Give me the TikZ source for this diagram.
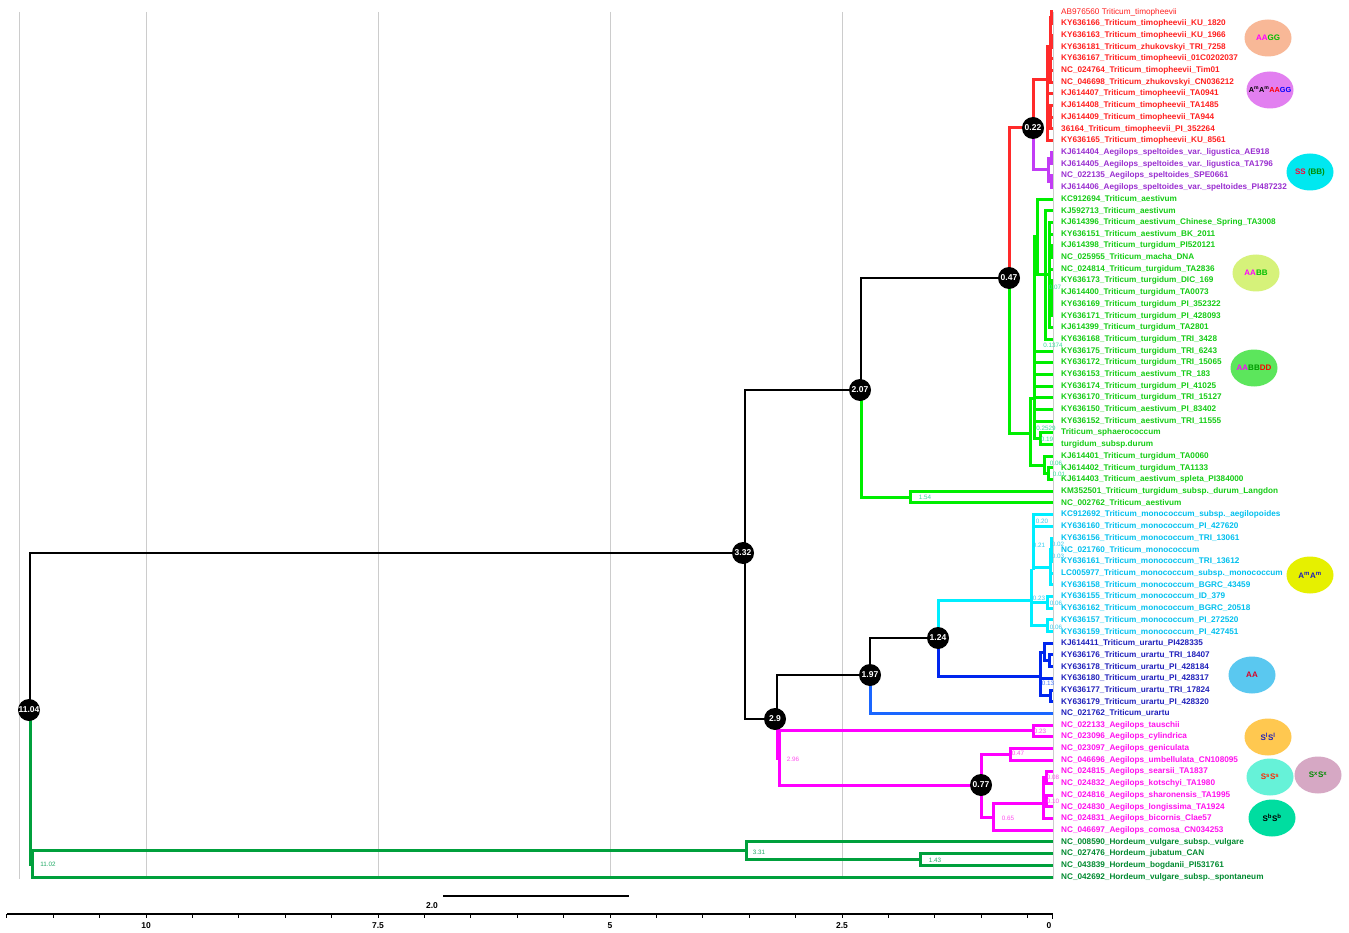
\documentclass[tikz,border=0pt]{standalone}
\usepackage{fontspec}
\setmainfont{Liberation Sans}
\usetikzlibrary{shapes.geometric}
\definecolor{cRed}{HTML}{FF2A2A}
\definecolor{cPur}{HTML}{C23CF5}
\definecolor{cGrn}{HTML}{00EE00}
\definecolor{cCyn}{HTML}{00EEFF}
\definecolor{cBlu}{HTML}{0026EE}
\definecolor{cBlu2}{HTML}{1A66FF}
\definecolor{cMag}{HTML}{FF00FF}
\definecolor{cHor}{HTML}{00A03C}
\definecolor{lRed}{HTML}{FF2020}
\definecolor{lPur}{HTML}{9A2FD0}
\definecolor{lGrn}{HTML}{14CC14}
\definecolor{lCyn}{HTML}{00C0EE}
\definecolor{lBlu}{HTML}{2020BB}
\definecolor{lMag}{HTML}{FF10EE}
\definecolor{lHor}{HTML}{008A30}
\definecolor{nGrn}{HTML}{33DD99}
\definecolor{nCyn}{HTML}{33CCEE}
\definecolor{nMag}{HTML}{FF50F0}
\definecolor{nHor}{HTML}{22AA66}
\definecolor{nBlu}{HTML}{4477FF}
\definecolor{grid}{HTML}{CCCCCC}
\begin{document}
\begin{tikzpicture}[x=1pt,y=-1pt,
  lab/.style={anchor=west,inner sep=0,font=\fontsize{8.2}{9}\selectfont\bfseries},
  num/.style={inner sep=0,font=\fontsize{6.3}{7}\selectfont},
  bn/.style={circle,fill=black,minimum size=22pt,inner sep=0,text=white,font=\fontsize{8.5}{9}\selectfont\bfseries},
  gen/.style={ellipse,minimum width=47pt,minimum height=37pt,inner sep=0},
  gtxt/.style={inner sep=0,font=\fontsize{8}{9}\selectfont\bfseries},
  axl/.style={inner sep=0,font=\fontsize{8.5}{9}\selectfont\bfseries},
  eBlk/.style={line width=2.4pt,black},
  eRed/.style={line width=3pt,cRed},
  ePur/.style={line width=3pt,cPur},
  eGrn/.style={line width=3pt,cGrn},
  eCyn/.style={line width=3pt,cCyn},
  eBlu/.style={line width=3pt,cBlu},
  eBlu2/.style={line width=3pt,cBlu2},
  eMag/.style={line width=3pt,cMag},
  eHor/.style={line width=3pt,cHor},
  gline/.style={line width=1pt,grid}]
\useasboundingbox (0,0) rectangle (1349,933);
\fill[white] (0,0) rectangle (1349,933);
% grid lines
\foreach \gx in {19,146,378,610,842,1053.5}
  \draw[gline] (\gx,12) -- (\gx,879);
% tips
\foreach \i in {1,...,75} \coordinate (t\i) at (1053,{12+(\i-1)*11.69});
% internal nodes
\coordinate (r) at (30,710);
\coordinate (n332) at (745,553);
\coordinate (n207) at (861,390);
\coordinate (n047) at (1009,278);
\coordinate (n022) at (1033,128);
\coordinate (nR0) at (1047,80);
\coordinate (nRa) at (1050,47);
\coordinate (nRa1) at (1051.5,17.8);
\coordinate (nRa3) at (1051.5,41.2);
\coordinate (nRc) at (1050,117.2);
\coordinate (nP0) at (1048,170);
\coordinate (nPa) at (1051,158.1);
\coordinate (nPb) at (1051,181.5);
\coordinate (nG0) at (1030,433);
\coordinate (nG1) at (1034,398);
\coordinate (nG2) at (1044,465);
\coordinate (nG3) at (1048,473.8);
\coordinate (nG5) at (1040,438.7);
\coordinate (nGt) at (1037,237);
\coordinate (nN18) at (1045,275);
\coordinate (nN19) at (1049,275);
\coordinate (nN19a) at (1051.5,251.6);
\coordinate (nN19b) at (1051.5,298.4);
\coordinate (n154) at (910,497.1);
\coordinate (n29) at (777,719);
\coordinate (n197) at (870,675);
\coordinate (n124) at (938,638);
\coordinate (nC0) at (1031,600);
\coordinate (nC1) at (1033,570);
\coordinate (nC3) at (1050,567);
\coordinate (nC4) at (1051.5,549.7);
\coordinate (nC6) at (1047,602.3);
\coordinate (nC7) at (1047,625.7);
\coordinate (nB0) at (1040,676);
\coordinate (nB1) at (1044,652);
\coordinate (nB3) at (1049,660.8);
\coordinate (nB2) at (1050,695.9);
\coordinate (n296) at (779,758);
\coordinate (nM023) at (1033,730.9);
\coordinate (n077) at (981,785);
\coordinate (nM047) at (1010,754.3);
\coordinate (n065) at (993,817);
\coordinate (nM0) at (1043,803);
\coordinate (nM1) at (1046,777.7);
\coordinate (nM2) at (1046,801.1);
\coordinate (nH) at (32,864);
\coordinate (nH331) at (746,850.5);
\coordinate (nH143) at (920,859.5);
% edges
\foreach \p/\c in {r/n332,n332/n207,n332/n29,n207/n047,n29/n197,n197/n124}
  \draw[eBlk] (\p) |- (\c);
\foreach \p/\c in {n047/n022,n022/nR0,nR0/nRa,nR0/t8,nR0/nRc,nR0/t12,nRa/nRa1,nRa/nRa3,nRa/t5,nRa/t6,nRa/t7,nRa1/t1,nRa1/t2,nRa3/t3,nRa3/t4,nRc/t9,nRc/t10,nRc/t11}
  \draw[eRed] (\p) |- (\c);
\foreach \p/\c in {n022/nP0,nP0/nPa,nP0/nPb,nPa/t13,nPa/t14,nPb/t15,nPb/t16}
  \draw[ePur] (\p) |- (\c);
\foreach \p/\c in {n047/nG0,nG0/nG1,nG0/nG2,nG2/t39,nG2/nG3,nG3/t40,nG3/t41,nG1/nGt,nG1/t30,nG1/t31,nG1/t32,nG1/t33,nG1/t34,nG1/t35,nG1/t36,nG1/nG5,nG5/t37,nG5/t38,nGt/t17,nGt/nN18,nN18/t18,nN18/nN19,nN18/t29,nN19/t19,nN19/t20,nN19/nN19a,nN19/t23,nN19/nN19b,nN19/t28,nN19a/t21,nN19a/t22,nN19b/t24,nN19b/t25,nN19b/t26,nN19b/t27,n207/n154,n154/t42,n154/t43}
  \draw[eGrn] (\p) |- (\c);
\foreach \p/\c in {n124/nC0,nC0/nC1,nC0/nC6,nC0/nC7,nC1/t44,nC1/t45,nC1/nC3,nC3/nC4,nC3/t49,nC3/t50,nC4/t46,nC4/t47,nC4/t48,nC6/t51,nC6/t52,nC7/t53,nC7/t54}
  \draw[eCyn] (\p) |- (\c);
\foreach \p/\c in {n124/nB0,nB0/nB1,nB0/t58,nB0/nB2,nB1/t55,nB1/nB3,nB3/t56,nB3/t57,nB2/t59,nB2/t60}
  \draw[eBlu] (\p) |- (\c);
\draw[eBlu2] (n197) |- (t61);
\foreach \p/\c in {n29/n296,n296/nM023,n296/n077,nM023/t62,nM023/t63,n077/nM047,n077/n065,nM047/t64,nM047/t65,n065/nM0,n065/t71,nM0/nM1,nM0/nM2,nM0/t70,nM1/t66,nM1/t67,nM2/t68,nM2/t69}
  \draw[eMag] (\p) |- (\c);
\foreach \p/\c in {r/nH,nH/nH331,nH/t75,nH331/t72,nH331/nH143,nH143/t73,nH143/t74}
  \draw[eHor] (\p) |- (\c);
% node circles
\node[bn] (c1104) at (29,710) {11.04};
\node[bn] (c332) at (743,553) {3.32};
\node[bn] (c207) at (860,390) {2.07};
\node[bn] (c047) at (1009,278) {0.47};
\node[bn] (c022) at (1033,128) {0.22};
\node[bn] (c29) at (775,719) {2.9};
\node[bn] (c197) at (870,675) {1.97};
\node[bn] (c124) at (938,638) {1.24};
\node[bn] (c077) at (981,785) {0.77};
% branch numbers
\node[num,text=nGrn] (b1) at (1055,287) {0.07};
\node[num,text=nGrn] (b2) at (1053,345) {0.1374};
\node[num,text=nGrn] (b3) at (1046,428) {0.2529};
\node[num,text=nGrn] (b4) at (1047,439) {0.19};
\node[num,text=nGrn] (b5) at (1056,463) {0.06};
\node[num,text=nGrn] (b6) at (1059,474) {0.01};
\node[num,text=nGrn] (b7) at (925,497) {1.54};
\node[num,text=nCyn] (b8) at (1042,521) {0.20};
\node[num,text=nCyn] (b9) at (1039,545) {0.21};
\node[num,text=nCyn] (b10) at (1058,544) {0.02};
\node[num,text=nCyn] (b11) at (1058,556) {0.03};
\node[num,text=nCyn] (b12) at (1039,598) {0.23};
\node[num,text=nCyn] (b13) at (1056,603) {0.06};
\node[num,text=nCyn] (b14) at (1056,627) {0.06};
\node[num,text=nBlu] (b15) at (1048,683) {0.13};
\node[num,text=nMag] (b16) at (1040,731) {0.23};
\node[num,text=nMag] (b17) at (1018,753) {0.47};
\node[num,text=nMag] (b18) at (793,759) {2.96};
\node[num,text=nMag] (b19) at (1053,777) {0.08};
\node[num,text=nMag] (b20) at (1053,801) {0.10};
\node[num,text=nMag] (b21) at (1008,818) {0.65};
\node[num,text=nHor] (b22) at (759,852) {3.31};
\node[num,text=nHor] (b23) at (935,860) {1.43};
\node[num,text=nHor] (b24) at (48,864) {11.02};
% tip labels
\node[lab,text=lRed,font=\fontsize{8.2}{9}\selectfont] (L1) at (1061,12) {AB976560 Triticum\_timopheevii};
\foreach \i/\t in {2/KY636166\_Triticum\_timopheevii\_KU\_1820,3/KY636163\_Triticum\_timopheevii\_KU\_1966,4/KY636181\_Triticum\_zhukovskyi\_TRI\_7258,5/KY636167\_Triticum\_timopheevii\_01C0202037,6/NC\_024764\_Triticum\_timopheevii\_Tim01,7/NC\_046698\_Triticum\_zhukovskyi\_CN036212,8/KJ614407\_Triticum\_timopheevii\_TA0941,9/KJ614408\_Triticum\_timopheevii\_TA1485,10/KJ614409\_Triticum\_timopheevii\_TA944,11/36164\_Triticum\_timopheevii\_PI\_352264,12/KY636165\_Triticum\_timopheevii\_KU\_8561}
  \node[lab,text=lRed] (L\i) at (1061,{12+(\i-1)*11.69}) {\t};
\foreach \i/\t in {13/KJ614404\_Aegilops\_speltoides\_var.\_ligustica\_AE918,14/KJ614405\_Aegilops\_speltoides\_var.\_ligustica\_TA1796,15/NC\_022135\_Aegilops\_speltoides\_SPE0661,16/KJ614406\_Aegilops\_speltoides\_var.\_speltoides\_PI487232}
  \node[lab,text=lPur] (L\i) at (1061,{12+(\i-1)*11.69}) {\t};
\foreach \i/\t in {17/KC912694\_Triticum\_aestivum,18/KJ592713\_Triticum\_aestivum,19/KJ614396\_Triticum\_aestivum\_Chinese\_Spring\_TA3008,20/KY636151\_Triticum\_aestivum\_BK\_2011,21/KJ614398\_Triticum\_turgidum\_PI520121,22/NC\_025955\_Triticum\_macha\_DNA,23/NC\_024814\_Triticum\_turgidum\_TA2836,24/KY636173\_Triticum\_turgidum\_DIC\_169,25/KJ614400\_Triticum\_turgidum\_TA0073,26/KY636169\_Triticum\_turgidum\_PI\_352322,27/KY636171\_Triticum\_turgidum\_PI\_428093,28/KJ614399\_Triticum\_turgidum\_TA2801,29/KY636168\_Triticum\_turgidum\_TRI\_3428,30/KY636175\_Triticum\_turgidum\_TRI\_6243,31/KY636172\_Triticum\_turgidum\_TRI\_15065,32/KY636153\_Triticum\_aestivum\_TR\_183,33/KY636174\_Triticum\_turgidum\_PI\_41025,34/KY636170\_Triticum\_turgidum\_TRI\_15127,35/KY636150\_Triticum\_aestivum\_PI\_83402,36/KY636152\_Triticum\_aestivum\_TRI\_11555,37/Triticum\_sphaerococcum,38/turgidum\_subsp.durum,39/KJ614401\_Triticum\_turgidum\_TA0060,40/KJ614402\_Triticum\_turgidum\_TA1133,41/KJ614403\_Triticum\_aestivum\_spleta\_PI384000,42/KM352501\_Triticum\_turgidum\_subsp.\_durum\_Langdon,43/NC\_002762\_Triticum\_aestivum}
  \node[lab,text=lGrn] (L\i) at (1061,{12+(\i-1)*11.69}) {\t};
\foreach \i/\t in {44/KC912692\_Triticum\_monococcum\_subsp.\_aegilopoides,45/KY636160\_Triticum\_monococcum\_PI\_427620,46/KY636156\_Triticum\_monococcum\_TRI\_13061,47/NC\_021760\_Triticum\_monococcum,48/KY636161\_Triticum\_monococcum\_TRI\_13612,49/LC005977\_Triticum\_monococcum\_subsp.\_monococcum,50/KY636158\_Triticum\_monococcum\_BGRC\_43459,51/KY636155\_Triticum\_monococcum\_ID\_379,52/KY636162\_Triticum\_monococcum\_BGRC\_20518,53/KY636157\_Triticum\_monococcum\_PI\_272520,54/KY636159\_Triticum\_monococcum\_PI\_427451}
  \node[lab,text=lCyn] (L\i) at (1061,{12+(\i-1)*11.69}) {\t};
\foreach \i/\t in {55/KJ614411\_Triticum\_urartu\_PI428335,56/KY636176\_Triticum\_urartu\_TRI\_18407,57/KY636178\_Triticum\_urartu\_PI\_428184,58/KY636180\_Triticum\_urartu\_PI\_428317,59/KY636177\_Triticum\_urartu\_TRI\_17824,60/KY636179\_Triticum\_urartu\_PI\_428320,61/NC\_021762\_Triticum\_urartu}
  \node[lab,text=lBlu] (L\i) at (1061,{12+(\i-1)*11.69}) {\t};
\foreach \i/\t in {62/NC\_022133\_Aegilops\_tauschii,63/NC\_023096\_Aegilops\_cylindrica,64/NC\_023097\_Aegilops\_geniculata,65/NC\_046696\_Aegilops\_umbellulata\_CN108095,66/NC\_024815\_Aegilops\_searsii\_TA1837,67/NC\_024832\_Aegilops\_kotschyi\_TA1980,68/NC\_024816\_Aegilops\_sharonensis\_TA1995,69/NC\_024830\_Aegilops\_longissima\_TA1924,70/NC\_024831\_Aegilops\_bicornis\_Clae57,71/NC\_046697\_Aegilops\_comosa\_CN034253}
  \node[lab,text=lMag] (L\i) at (1061,{12+(\i-1)*11.69}) {\t};
\foreach \i/\t in {72/NC\_008590\_Hordeum\_vulgare\_subsp.\_vulgare,73/NC\_027476\_Hordeum\_jubatum\_CAN,74/NC\_043839\_Hordeum\_bogdanii\_PI531761,75/NC\_042692\_Hordeum\_vulgare\_subsp.\_spontaneum}
  \node[lab,text=lHor] (L\i) at (1061,{12+(\i-1)*11.69}) {\t};
% genome ellipses
\node[gen,fill={rgb,255:red,248;green,184;blue,151}] (e1) at (1268,38) {};
\node[gen,fill={rgb,255:red,226;green,127;blue,240}] (e2) at (1270,90) {};
\node[gen,fill={rgb,255:red,0;green,232;blue,240}] (e3) at (1310,172) {};
\node[gen,fill={rgb,255:red,214;green,242;blue,122}] (e4) at (1256,273) {};
\node[gen,fill={rgb,255:red,92;green,230;blue,92}] (e5) at (1254,368) {};
\node[gen,fill={rgb,255:red,230;green,240;blue,0}] (e6) at (1310,575) {};
\node[gen,fill={rgb,255:red,90;green,200;blue,240}] (e7) at (1252,675) {};
\node[gen,fill={rgb,255:red,255;green,200;blue,80}] (e8) at (1268,737) {};
\node[gen,fill={rgb,255:red,102;green,242;blue,216}] (e9) at (1270,777) {};
\node[gen,fill={rgb,255:red,214;green,168;blue,196}] (e10) at (1318,775) {};
\node[gen,fill={rgb,255:red,0;green,221;blue,160}] (e11) at (1272,818) {};
\node[gtxt] (g1) at (e1) {\textcolor{cMag}{AA}\textcolor{green!75!black}{GG}};
\node[gtxt,font=\fontsize{7.3}{8}\selectfont\bfseries] (g2) at (e2) {A\textsuperscript{m}A\textsuperscript{m}\textcolor{red}{AA}\textcolor{blue}{GG}};
\node[gtxt] (g3) at (e3) {\textcolor{red!80!magenta}{SS} \textcolor{green!55!black}{(BB)}};
\node[gtxt] (g4) at (e4) {\textcolor{cMag}{AA}\textcolor{green!75!black}{BB}};
\node[gtxt] (g5) at (e5) {\textcolor{cMag}{AA}\textcolor{green!60!black}{BB}\textcolor{red}{DD}};
\node[gtxt] (g6) at (e6) {\textcolor{lBlu}{A\textsuperscript{m}A\textsuperscript{m}}};
\node[gtxt] (g7) at (e7) {\textcolor{red!85!blue}{AA}};
\node[gtxt] (g8) at (e8) {\textcolor{lBlu}{S\textsuperscript{l}S\textsuperscript{l}}};
\node[gtxt] (g9) at (e9) {\textcolor{red!70!orange}{S\textsuperscript{s}S\textsuperscript{s}}};
\node[gtxt] (g10) at (e10) {\textcolor{green!55!black}{S\textsuperscript{x}S\textsuperscript{x}}};
\node[gtxt] (g11) at (e11) {S\textsuperscript{b}S\textsuperscript{b}};
% scale bar
\coordinate (sb0) at (443,896);
\coordinate (sb1) at (629,896);
\draw[line width=1.8pt] (sb0) -- (sb1);
\node[axl] (sbl) at (432,906) {2.0};
% axis
\coordinate (ax0) at (7,914);
\coordinate (ax1) at (1053,914);
\draw[line width=1.4pt] (ax0) -- (ax1);
\foreach \k in {-18,...,4} \draw[line width=0.8pt] ({842+46.4*\k},914) -- ++(0,4);
\draw[line width=0.8pt] (1052.5,914) -- ++(0,5);
\node[axl] (a10) at (146,926) {10};
\node[axl] (a75) at (378,926) {7.5};
\node[axl] (a5) at (610,926) {5};
\node[axl] (a25) at (842,926) {2.5};
\node[axl] (a0) at (1049,926) {0};
\end{tikzpicture}
\end{document}
